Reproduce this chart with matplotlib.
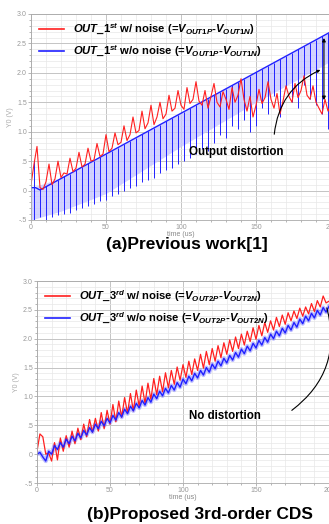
import numpy as np
import matplotlib
matplotlib.use('Agg')
import matplotlib.pyplot as plt
from matplotlib.ticker import MultipleLocator

plt.rcParams['font.family'] = ['Liberation Sans', 'DejaVu Sans']
plt.rcParams['mathtext.fontset'] = 'custom'
plt.rcParams['mathtext.it'] = 'Liberation Sans:italic:bold'
plt.rcParams['mathtext.rm'] = 'Liberation Sans:bold'
plt.rcParams['mathtext.bf'] = 'Liberation Sans:bold'

# ---- data (a) previous work, 1st order ----
t2 = list(range(0, 201, 2))  # sample times (us), 2 us step

red_a = [0.10, 0.45, 0.75, 0.05, 0.02, 0.15, 0.45, 0.10, 0.20, 0.50,
         0.22, 0.30, 0.28, 0.55, 0.32, 0.38, 0.65, 0.40, 0.45, 0.72,
         0.50, 0.52, 0.80, 0.58, 0.62, 0.95, 0.66, 0.72, 0.98, 0.78,
         0.82, 1.10, 0.85, 0.95, 1.25, 0.98, 1.02, 1.35, 1.05, 1.15,
         1.45, 1.12, 1.25, 1.50, 1.22, 1.30, 1.62, 1.35, 1.40, 1.70,
         1.45, 1.38, 1.75, 1.48, 1.55, 1.85, 1.52, 1.45, 1.70, 1.40,
         1.60, 1.82, 1.50, 1.42, 1.68, 1.55, 1.38, 1.75, 1.50, 1.62,
         1.90, 1.55, 1.35, 1.60, 1.25, 1.45, 1.72, 1.48, 1.58, 1.85,
         1.55, 1.40, 1.65, 1.30, 1.52, 1.78, 1.60, 1.50, 1.82, 1.58,
         1.70, 1.95, 1.62, 1.55, 1.78, 1.50, 1.40, 1.30, 1.55, 1.35,
         1.45]

# blue sawtooth: reset spikes
spike_t = [2, 6, 10, 14, 18, 22, 26, 30, 34, 38, 42, 46, 50, 54, 58, 62, 66,
           70, 74, 78, 82, 86, 90, 94, 98, 102, 106, 110, 114, 118, 122, 126,
           130, 134, 138, 142, 146, 150, 154, 158, 162, 166, 170, 174, 178,
           182, 186, 190, 194, 198]
spike_top = [0.50, 0.05, 0.07, 0.12, 0.18, 0.24, 0.29, 0.35, 0.40, 0.46,
             0.51, 0.57, 0.62, 0.68, 0.73, 0.79, 0.84, 0.90, 0.96, 1.01,
             1.07, 1.12, 1.18, 1.23, 1.29, 1.34, 1.40, 1.45, 1.51, 1.56,
             1.62, 1.68, 1.73, 1.79, 1.84, 1.90, 1.95, 2.01, 2.06, 2.12,
             2.17, 2.23, 2.28, 2.34, 2.40, 2.45, 2.51, 2.56, 2.62, 2.67]
spike_bot = [-0.50, -0.45, -0.50, -0.45, -0.42, -0.40, -0.38, -0.33, -0.30, -0.27,
             -0.22, -0.18, -0.16, -0.10, -0.05, 0.00, 0.05, 0.08, 0.15, 0.18,
             0.22, 0.30, 0.35, 0.38, 0.45, 0.50, 0.55, 0.62, 0.70, 0.68,
             0.80, 0.95, 0.90, 1.10, 1.05, 1.20, 1.00, 1.10, 1.40, 1.30,
             1.60, 1.25, 1.75, 1.50, 1.40, 1.80, 1.55, 1.45, 1.30, 1.05]

ramp_t = [0, 3, 6, 200]
ramp_v = [0.05, 0.05, 0.01, 2.70]
band_t = [0, 20, 50, 100, 150, 200]
band_lo = [-0.50, -0.35, -0.05, 0.75, 1.50, 2.20]
band_hi = [0.05, 0.21, 0.62, 1.32, 2.01, 2.70]

# ---- data (b) proposed 3rd order ----
blue_b = [0.00, 0.03, -0.05, -0.12, 0.05, 0.00, 0.15, 0.08, 0.20, 0.12,
          0.26, 0.18, 0.31, 0.23, 0.36, 0.28, 0.41, 0.33, 0.46, 0.38,
          0.52, 0.44, 0.57, 0.49, 0.62, 0.54, 0.67, 0.59, 0.72, 0.64,
          0.78, 0.70, 0.83, 0.75, 0.88, 0.80, 0.93, 0.85, 0.98, 0.90,
          1.04, 0.96, 1.09, 1.01, 1.14, 1.06, 1.19, 1.11, 1.24, 1.16,
          1.30, 1.22, 1.35, 1.27, 1.40, 1.32, 1.45, 1.37, 1.50, 1.42,
          1.56, 1.48, 1.61, 1.53, 1.66, 1.58, 1.71, 1.63, 1.76, 1.68,
          1.82, 1.74, 1.87, 1.79, 1.92, 1.84, 1.97, 1.89, 2.02, 1.94,
          2.08, 2.00, 2.13, 2.05, 2.18, 2.10, 2.23, 2.15, 2.28, 2.20,
          2.34, 2.26, 2.39, 2.31, 2.44, 2.36, 2.49, 2.41, 2.54, 2.46,
          2.56]

red_b = [0.05, 0.35, 0.30, 0.00, 0.02, -0.12, 0.20, -0.10, 0.28, 0.05,
         0.32, 0.12, 0.40, 0.18, 0.45, 0.25, 0.52, 0.30, 0.60, 0.38,
         0.62, 0.40, 0.72, 0.44, 0.76, 0.52, 0.86, 0.56, 0.92, 0.64,
         0.98, 0.71, 1.05, 0.75, 1.11, 0.83, 1.18, 0.88, 1.23, 0.95,
         1.31, 1.03, 1.35, 1.08, 1.41, 1.15, 1.45, 1.21, 1.51, 1.28,
         1.55, 1.33, 1.61, 1.38, 1.65, 1.45, 1.73, 1.49, 1.78, 1.55,
         1.83, 1.61, 1.88, 1.67, 1.93, 1.73, 1.98, 1.78, 2.03, 1.83,
         2.08, 1.89, 2.13, 1.95, 2.19, 1.99, 2.23, 2.05, 2.28, 2.11,
         2.31, 2.15, 2.37, 2.21, 2.41, 2.25, 2.45, 2.31, 2.48, 2.35,
         2.53, 2.39, 2.55, 2.43, 2.61, 2.47, 2.66, 2.55, 2.74, 2.62,
         2.65]

yticks = [-0.5, 0, 0.5, 1.0, 1.5, 2.0, 2.5, 3.0]
ytick_labels = ['-.5', '0', '.5', '1.0', '1.5', '2.0', '2.5', '3.0']
xticks = [0, 50, 100, 150, 200]

W, H = 329, 524
fig = plt.figure(figsize=(W / 100, H / 100), dpi=100)


def px_axes(x0, y0, x1, y1):
    return fig.add_axes([x0 / W, 1 - y1 / H, (x1 - x0) / W, (y1 - y0) / H])


def style(ax):
    ax.set_xlim(0, 200)
    ax.set_ylim(-0.5, 3.0)
    ax.set_yticks(yticks)
    ax.set_yticklabels(ytick_labels)
    ax.set_xticks(xticks)
    ax.xaxis.set_minor_locator(MultipleLocator(10))
    ax.yaxis.set_minor_locator(MultipleLocator(0.1))
    ax.grid(True, which='major', color='#c4c4c4', lw=0.7)
    ax.grid(True, which='minor', color='#e8e8e8', lw=0.5)
    ax.set_axisbelow(True)
    ax.tick_params(which='both', labelsize=5, colors='#999999', length=2, width=0.5, pad=1)
    ax.tick_params(which='minor', length=1.2)
    for s in ax.spines.values():
        s.set_color('#aaaaaa')
        s.set_linewidth(0.6)
    ax.set_xlabel('time (us)', fontsize=5, color='#888888', labelpad=0)
    ax.set_ylabel('Y0 (V)', fontsize=5, color='#aaaaaa', labelpad=2)


leg_prop = {'weight': 'bold', 'size': 8.1}

# ---------- panel (a) ----------
ax1 = px_axes(31, 14, 331, 220)
style(ax1)
ax1.fill_between(band_t, band_lo, band_hi, color='#c4c4ff', alpha=0.75, lw=0)
ax1.vlines(spike_t, spike_bot, spike_top, color='#2020ff', lw=0.7)
ax1.plot(ramp_t, ramp_v, color='#2020ff', lw=1.0)
ax1.plot(t2, red_a, color='#ff2020', lw=0.8)
ax1.plot([], [], color='#ff2020', lw=1.2,
         label=r'$OUT\_1^{st}$ w/ noise (=$V_{OUT1P}$-$V_{OUT1N}$)')
ax1.plot([], [], color='#2020ff', lw=1.2,
         label=r'$OUT\_1^{st}$ w/o noise (=$V_{OUT1P}$-$V_{OUT1N}$)')
ax1.legend(loc='upper left', frameon=False, handlelength=2.2,
           labelspacing=0.65, borderaxespad=0.3, prop=leg_prop)
ax1.annotate('', xy=(195.3, 1.49), xytext=(195.3, 2.64), zorder=10,
             arrowprops=dict(arrowstyle='<|-|>', color='k', lw=0.8, mutation_scale=5))
ax1.annotate('', xy=(194.6, 2.07), xytext=(162, 0.91), zorder=10,
             arrowprops=dict(arrowstyle='-|>', color='k', lw=0.8, mutation_scale=4,
                             connectionstyle='arc3,rad=-0.3'))
ax1.text(137, 0.66, 'Output distortion', fontsize=8.3, fontweight='bold',
         ha='center', va='center')

fig.text(187 / W, 1 - 245 / H, '(a)Previous work[1]', fontsize=12.5,
         fontweight='bold', ha='center', va='center')

# ---------- panel (b) ----------
ax2 = px_axes(37, 281, 329, 483)
style(ax2)
ax2.plot(t2, blue_b, color='#6f6fff', lw=3.0, alpha=0.45)
ax2.plot(t2, red_b, color='#ff2020', lw=0.9)
ax2.plot(t2, blue_b, color='#2020ff', lw=1.0)
ax2.plot([], [], color='#ff2020', lw=1.2,
         label=r'$OUT\_3^{rd}$ w/ noise (=$V_{OUT2P}$-$V_{OUT2N}$)')
ax2.plot([], [], color='#2020ff', lw=1.2,
         label=r'$OUT\_3^{rd}$ w/o noise (=$V_{OUT2P}$-$V_{OUT2N}$)')
ax2.legend(loc='upper left', frameon=False, handlelength=2.2,
           labelspacing=0.65, borderaxespad=0.3, prop=leg_prop)
ax2.annotate('', xy=(198, 2.58), xytext=(173, 0.73), zorder=10,
             arrowprops=dict(arrowstyle='-', color='k', lw=0.8,
                             connectionstyle='arc3,rad=0.35'))
ax2.text(129, 0.66, 'No distortion', fontsize=8.3, fontweight='bold',
         ha='center', va='center')

fig.text(200 / W, 1 - 515 / H, '(b)Proposed 3rd-order CDS', fontsize=12.5,
         fontweight='bold', ha='center', va='center')

fig.savefig('out.png', dpi=100)
